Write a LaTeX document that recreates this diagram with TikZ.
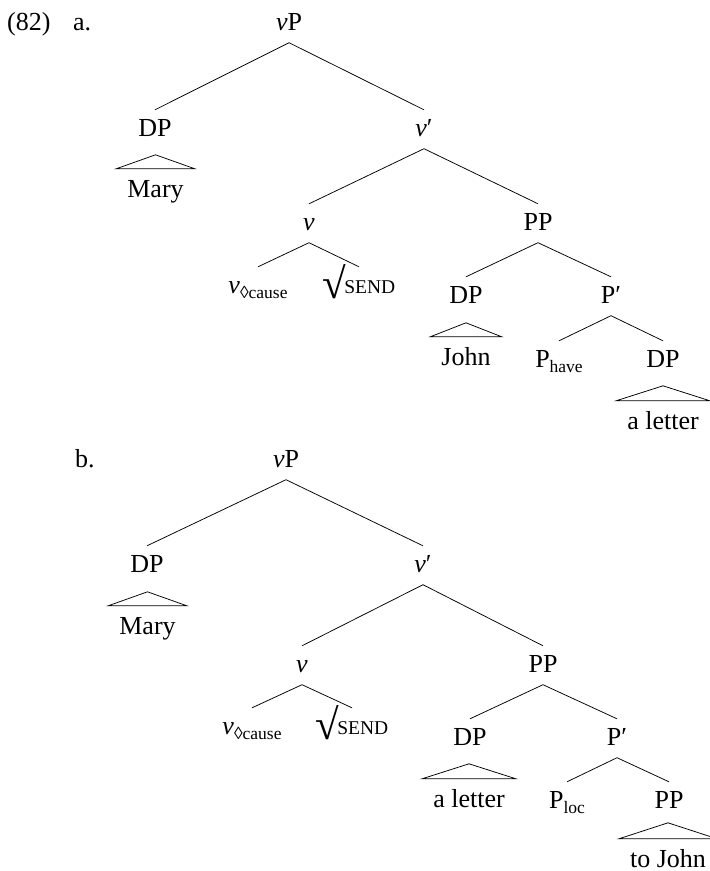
\documentclass[tikz,border=0pt]{standalone}
\usepackage{fontspec}
\setmainfont{Liberation Serif}
\newcommand{\subtxt}[1]{\raisebox{-5pt}{\fontsize{17.5}{18}\selectfont #1}}
\newcommand{\vv}{\textit{v}}
\newcommand{\rootsend}{\raisebox{-5pt}{\fontsize{43}{43}\selectfont √}\kern-2pt{\fontsize{19.5}{20}\selectfont SEND}}
\begin{document}
\begin{tikzpicture}[x=1pt,y=-1pt,
  lab/.style={anchor=base,inner sep=0pt,text height=26pt,text depth=12.5pt,font=\fontsize{26}{30}\selectfont},
  leaf/.style={anchor=base,inner xsep=11pt,inner ysep=0pt,text height=28pt,text depth=0pt,font=\fontsize{26}{30}\selectfont},
  num/.style={anchor=base west,inner sep=0pt,font=\fontsize{26}{30}\selectfont},
  br/.style={line width=0.75pt}]
\useasboundingbox (0,0) rectangle (710,871);
% labels
\node[num] (ex) at (7,30) {(82)};
\node[num] (la) at (73,30) {a.};
\node[num] (lb) at (75,467) {b.};
% ---------- tree a
\node[lab] (vPa) at (289,30) {\vv P};
\node[lab] (DPa1) at (155,136) {DP};
\node[leaf] (Marya) at (155.5,197) {Mary};
\node[lab] (vbara) at (424,136) {\vv′};
\node[lab] (va) at (309,230) {\vv};
\node[lab] (PPa) at (538,230) {PP};
\node[lab] (vcausea) at (258,293) {\vv\subtxt{◊cause}};
\node[lab] (senda) at (359,293) {\rootsend};
\node[lab] (DPa2) at (466,303) {DP};
\node[leaf] (Johna) at (466,365) {John};
\node[lab] (Pbara) at (611,303) {P′};
\node[lab] (Phavea) at (559,367) {P\subtxt{have}};
\node[lab] (DPa3) at (663,367) {DP};
\node[leaf] (lettera) at (663,429) {a letter};
\draw[br] (vPa.south) -- (DPa1.north);
\draw[br] (vPa.south) -- (vbara.north);
\draw[br] (vbara.south) -- (va.north);
\draw[br] (vbara.south) -- (PPa.north);
\draw[br] (va.south) -- (vcausea.north);
\draw[br] (va.south) -- (senda.north);
\draw[br] (PPa.south) -- (DPa2.north);
\draw[br] (PPa.south) -- (Pbara.north);
\draw[br] (Pbara.south) -- (Phavea.north);
\draw[br] (Pbara.south) -- (DPa3.north);
\draw[br] (Marya.north west) -- ([yshift=14pt]Marya.north) -- (Marya.north east) -- cycle;
\draw[br] (Johna.north west) -- ([yshift=14pt]Johna.north) -- (Johna.north east) -- cycle;
\draw[br] (lettera.north west) -- ([yshift=15pt]lettera.north) -- (lettera.north east) -- cycle;
% ---------- tree b
\node[lab] (vPb) at (286,467) {\vv P};
\node[lab] (DPb1) at (147,572) {DP};
\node[leaf] (Maryb) at (147.5,634) {Mary};
\node[lab] (vbarb) at (423,572) {\vv′};
\node[lab] (vb) at (302,672) {\vv};
\node[lab] (PPb1) at (543,672) {PP};
\node[lab] (vcauseb) at (252,734) {\vv\subtxt{◊cause}};
\node[lab] (sendb) at (352,734) {\rootsend};
\node[lab] (DPb2) at (470,745) {DP};
\node[leaf] (letterb) at (469,807) {a letter};
\node[lab] (Pbarb) at (617,745) {P′};
\node[lab] (Plocb) at (567,808) {P\subtxt{loc}};
\node[lab] (PPb2) at (669,808) {PP};
\node[leaf] (toJohn) at (668,867) {to John};
\draw[br] (vPb.south) -- (DPb1.north);
\draw[br] (vPb.south) -- (vbarb.north);
\draw[br] (vbarb.south) -- (vb.north);
\draw[br] (vbarb.south) -- (PPb1.north);
\draw[br] (vb.south) -- (vcauseb.north);
\draw[br] (vb.south) -- (sendb.north);
\draw[br] (PPb1.south) -- (DPb2.north);
\draw[br] (PPb1.south) -- (Pbarb.north);
\draw[br] (Pbarb.south) -- (Plocb.north);
\draw[br] (Pbarb.south) -- (PPb2.north);
\draw[br] (Maryb.north west) -- ([yshift=14pt]Maryb.north) -- (Maryb.north east) -- cycle;
\draw[br] (letterb.north west) -- ([yshift=15pt]letterb.north) -- (letterb.north east) -- cycle;
\draw[br] (toJohn.north west) -- ([yshift=16pt]toJohn.north) -- (toJohn.north east) -- cycle;
\end{tikzpicture}
\end{document}
